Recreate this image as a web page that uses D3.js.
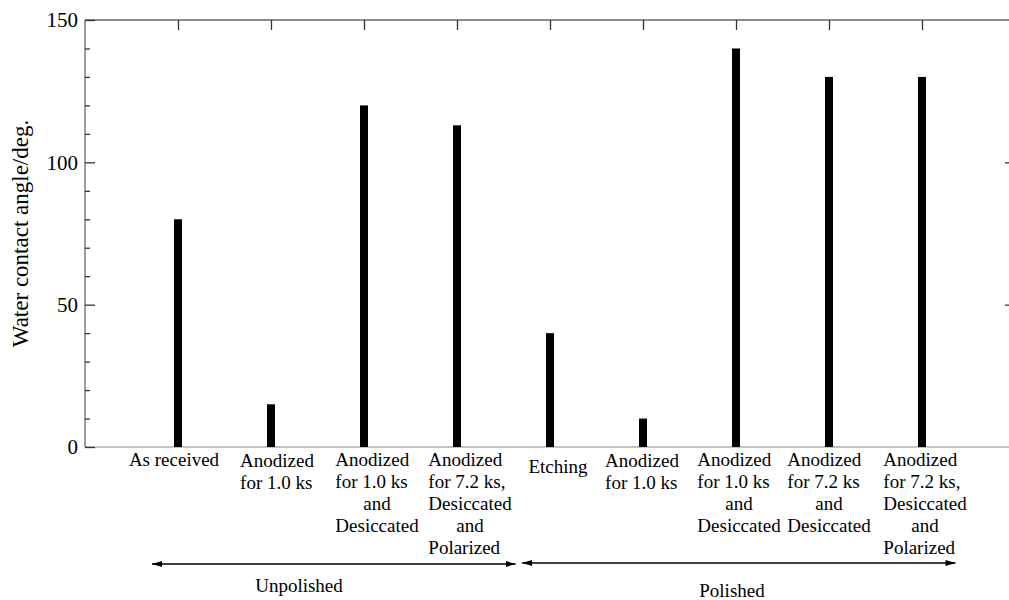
<!DOCTYPE html>
<html>
<head>
<meta charset="utf-8">
<script src="https://cdn.jsdelivr.net/npm/d3@7/dist/d3.min.js"></script>
<style>
  html, body { margin: 0; padding: 0; background: #fff; }
  svg { display: block; }
  text { font-family: "Liberation Serif", "Times New Roman", serif; fill: #000; }
</style>
</head>
<body>
<svg id="chart" width="1009" height="600"></svg>
<script>
// Water contact angle for each surface treatment
const treatments = [
  ["As received"],
  ["Anodized", "for 1.0 ks"],
  ["Anodized", "for 1.0 ks", "and", "Desiccated"],
  ["Anodized", "for 7.2 ks,", "Desiccated", "and", "Polarized"],
  ["Etching"],
  ["Anodized", "for 1.0 ks"],
  ["Anodized", "for 1.0 ks", "and", "Desiccated"],
  ["Anodized", "for 7.2 ks", "and", "Desiccated"],
  ["Anodized", "for 7.2 ks,", "Desiccated", "and", "Polarized"]
];
const angles = [80, 15, 120, 113, 40, 10, 140, 130, 130];
const yTicks = [0, 50, 100, 150];
const yMinorTicks = [10, 20, 30, 40, 60, 70, 80, 90, 110, 120, 130, 140];
const groupNames = ["Unpolished", "Polished"];
const groupMembers = [[0, 3], [4, 8]];
const yTitle = "Water contact angle/deg.";

// layout
const plot = { left: 85, right: 1015, top: 20, bottom: 447 };
const labelShift = [-4, 6, 13, 13, 8, -1, 3, 0, 3];
const labelDrop = [0, 1, 0, 0, 7, 1, 0, 0, 0];
const lineGap = 22;

const svg = d3.select("#chart");
const ids = treatments.map((t, i) => "c" + i);

const x = d3.scalePoint().domain(ids).range([plot.left, plot.right]).padding(1);
const y = d3.scaleLinear().domain([0, 150]).range([plot.bottom, plot.top]);

// frame
svg.append("line").attr("x1", plot.left).attr("x2", plot.right)
  .attr("y1", plot.top).attr("y2", plot.top)
  .attr("stroke", "#666").attr("stroke-width", 1.3);
svg.append("line").attr("x1", plot.left).attr("x2", plot.left)
  .attr("y1", plot.top).attr("y2", plot.bottom)
  .attr("stroke", "#666").attr("stroke-width", 1.3);
svg.append("line").attr("x1", plot.left).attr("x2", plot.right)
  .attr("y1", plot.bottom).attr("y2", plot.bottom)
  .attr("stroke", "#888").attr("stroke-width", 1.1);
svg.append("line").attr("x1", plot.right).attr("x2", plot.right)
  .attr("y1", plot.top).attr("y2", plot.bottom)
  .attr("stroke", "#666").attr("stroke-width", 1.3);

// left axis: major ticks with labels, minor ticks
const yAxis = d3.axisLeft(y).tickValues(yTicks).tickSize(-10).tickPadding(7).tickFormat(d3.format("d"));
const gy = svg.append("g").attr("transform", `translate(${plot.left},0)`).call(yAxis);
gy.select(".domain").remove();
gy.selectAll(".tick line").attr("stroke", "#333").attr("stroke-width", 1.3);
gy.selectAll(".tick text").style("font-size", "21px")
  .style("font-family", "'Liberation Serif', serif").attr("fill", "#000");

const gyMinor = svg.append("g").attr("transform", `translate(${plot.left},0)`)
  .call(d3.axisLeft(y).tickValues(yMinorTicks).tickSize(-5).tickFormat(""));
gyMinor.select(".domain").remove();
gyMinor.selectAll(".tick line").attr("stroke", "#333").attr("stroke-width", 1.3);

// right axis: inward major ticks only
const gr = svg.append("g").attr("transform", `translate(${plot.right},0)`)
  .call(d3.axisRight(y).tickValues(yTicks.slice(1, -1)).tickSize(-10).tickFormat(""));
gr.select(".domain").remove();
gr.selectAll(".tick line").attr("stroke", "#333").attr("stroke-width", 1.3);

// top axis: inward ticks at each treatment
const gt = svg.append("g").attr("transform", `translate(0,${plot.top})`)
  .call(d3.axisTop(x).tickSize(-10).tickFormat(""));
gt.select(".domain").remove();
gt.selectAll(".tick line").attr("stroke", "#333").attr("stroke-width", 1.3);

// bars
const barW = 8;
svg.append("g").selectAll("rect").data(angles).join("rect")
  .attr("x", (d, i) => x(ids[i]) - barW / 2)
  .attr("y", d => y(d))
  .attr("width", barW)
  .attr("height", d => y(0) - y(d))
  .attr("fill", "#000");

// treatment labels: lines left-aligned in a block, "and" centred
const labels = svg.append("g");
treatments.forEach((lines, i) => {
  const g = labels.append("g");
  const texts = lines.map((s, k) => g.append("text")
    .attr("y", 466 + labelDrop[i] + k * lineGap)
    .style("font-size", "19px")
    .text(s));
  const widths = texts.map(t => t.node().getComputedTextLength());
  const blockW = d3.max(widths);
  const cx = x(ids[i]) + labelShift[i];
  const left = cx - blockW / 2;
  texts.forEach((t, k) => {
    if (lines[k] === "and") t.attr("x", cx).attr("text-anchor", "middle");
    else t.attr("x", left);
  });
});

// group arrows
const defs = svg.append("defs");
defs.append("marker").attr("id", "head").attr("viewBox", "0 0 10 6")
  .attr("refX", 10).attr("refY", 3).attr("markerWidth", 10).attr("markerHeight", 6)
  .attr("markerUnits", "userSpaceOnUse").attr("orient", "auto-start-reverse")
  .append("path").attr("d", "M0,0 L10,3 L0,6 Z").attr("fill", "#000");

const step = x.step();
const arrowSpec = [
  { x1: x(ids[groupMembers[0][0]]) - 0.28 * step, x2: x(ids[groupMembers[0][1]]) + 0.63 * step, y: 564, lx: 299, ly: 592 },
  { x1: x(ids[groupMembers[1][0]]) - 0.30 * step, x2: x(ids[groupMembers[1][1]]) + 0.36 * step, y: 563, lx: 732, ly: 597 }
];
groupNames.forEach((name, j) => {
  const a = arrowSpec[j];
  svg.append("line").attr("x1", a.x1).attr("x2", a.x2).attr("y1", a.y).attr("y2", a.y)
    .attr("stroke", "#000").attr("stroke-width", 1.5)
    .attr("marker-start", "url(#head)").attr("marker-end", "url(#head)");
  svg.append("text").attr("x", a.lx).attr("y", a.ly).attr("text-anchor", "middle")
    .style("font-size", "19px").text(name);
});

// y title
svg.append("text")
  .attr("transform", `translate(28,${(plot.top + plot.bottom) / 2}) rotate(-90)`)
  .attr("text-anchor", "middle")
  .style("font-size", "23px")
  .text(yTitle);
</script>
</body>
</html>
